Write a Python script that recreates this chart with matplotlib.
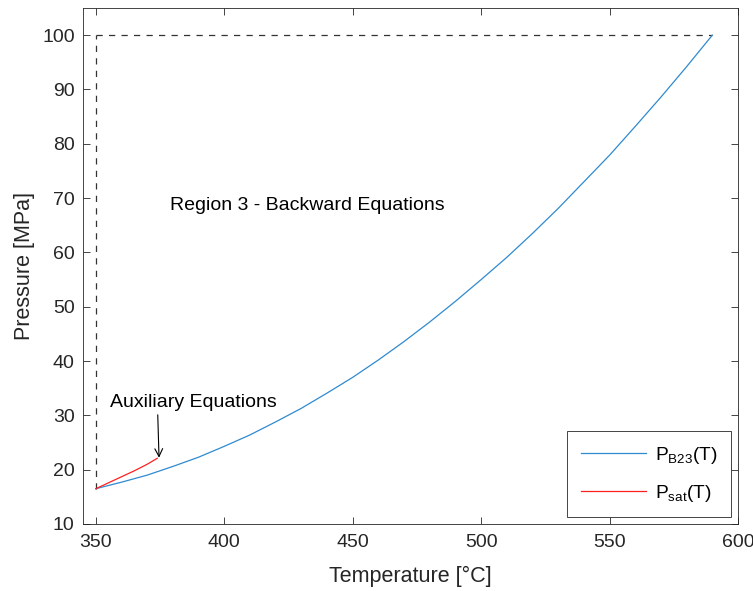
import numpy as np
import matplotlib.pyplot as plt

plt.rcParams['font.family'] = ['Liberation Sans', 'DejaVu Sans']
plt.rcParams['mathtext.fontset'] = 'custom'
plt.rcParams['mathtext.rm'] = 'Liberation Sans'

# boundary line between regions 2 and 3
t_b23 = [350, 360, 370, 380, 390, 400, 410, 420, 430, 440, 450, 460, 470,
         480, 490, 500, 510, 520, 530, 540, 550, 560, 570, 580, 590]
p_b23 = [16.5, 17.7, 19.0, 20.6, 22.3, 24.3, 26.4, 28.8, 31.3, 34.1, 37.0, 40.2, 43.6,
         47.2, 51.0, 55.0, 59.1, 63.5, 68.1, 73.0, 77.9, 83.2, 88.6, 94.2, 100.0]

# saturation line up to the critical point
t_sat = [350, 355, 360, 365, 370, 373.9]
p_sat = [16.5, 17.6, 18.7, 19.8, 21.0, 22.1]

# region 3 bounds
t_lo, t_hi = 350, 590
p_lo, p_hi = 16.5, 100

axis_grey = '#262626'

fig = plt.figure(figsize=(7.53, 5.91), dpi=100)
ax = fig.add_axes([83 / 753, 1 - 524 / 591, (738 - 83) / 753, (524 - 8) / 591])

ax.plot([t_lo, t_lo], [p_lo, p_hi], '--', color='#333333', linewidth=0.9, dashes=(5, 5))
ax.plot([t_lo, t_hi], [p_hi, p_hi], '--', color='#333333', linewidth=0.9, dashes=(5, 5))

ax.plot(t_b23, p_b23, color='#2f8ad0', linewidth=0.9, label=r'$\mathregular{P_{B23}}$(T)')
ax.plot(t_sat, p_sat, color='#FF2020', linewidth=0.9, label=r'$\mathregular{P_{sat}}$(T)')

ax.text(378.8, 68.7, 'Region 3 - Backward Equations', fontsize=14, color='black', va='center')
ax.text(355.4, 32.4, 'Auxiliary Equations', fontsize=14, color='black', va='center')
ax.annotate('', xy=(374.6, 22.2), xytext=(374.1, 30.1),
            arrowprops=dict(arrowstyle='->', color='black', lw=0.8,
                            shrinkA=0, shrinkB=0, mutation_scale=14))

ax.set_xlim(345, 600)
ax.set_ylim(10, 105)
ax.set_xticks(np.arange(350, 601, 50))
ax.set_yticks(np.arange(10, 101, 10))
ax.tick_params(direction='in', top=True, right=True, length=5, width=0.6,
               labelsize=14, colors=axis_grey)
ax.tick_params(axis='x', pad=7)
ax.tick_params(axis='y', pad=6)
for s in ax.spines.values():
    s.set_color(axis_grey)
    s.set_linewidth(0.6)

ax.set_xlabel('Temperature [°C]', fontsize=15.5, color=axis_grey, labelpad=11)
ax.set_ylabel('Pressure [MPa]', fontsize=15.5, color=axis_grey, labelpad=5)

leg = ax.legend(loc='lower right', fontsize=13.8, frameon=True, fancybox=False,
                edgecolor=axis_grey, framealpha=1, borderpad=0.7,
                handlelength=3.4, handletextpad=0.5, labelspacing=0.9,
                borderaxespad=0.35)
leg.get_frame().set_linewidth(0.6)

plt.savefig('out.png', dpi=100)
